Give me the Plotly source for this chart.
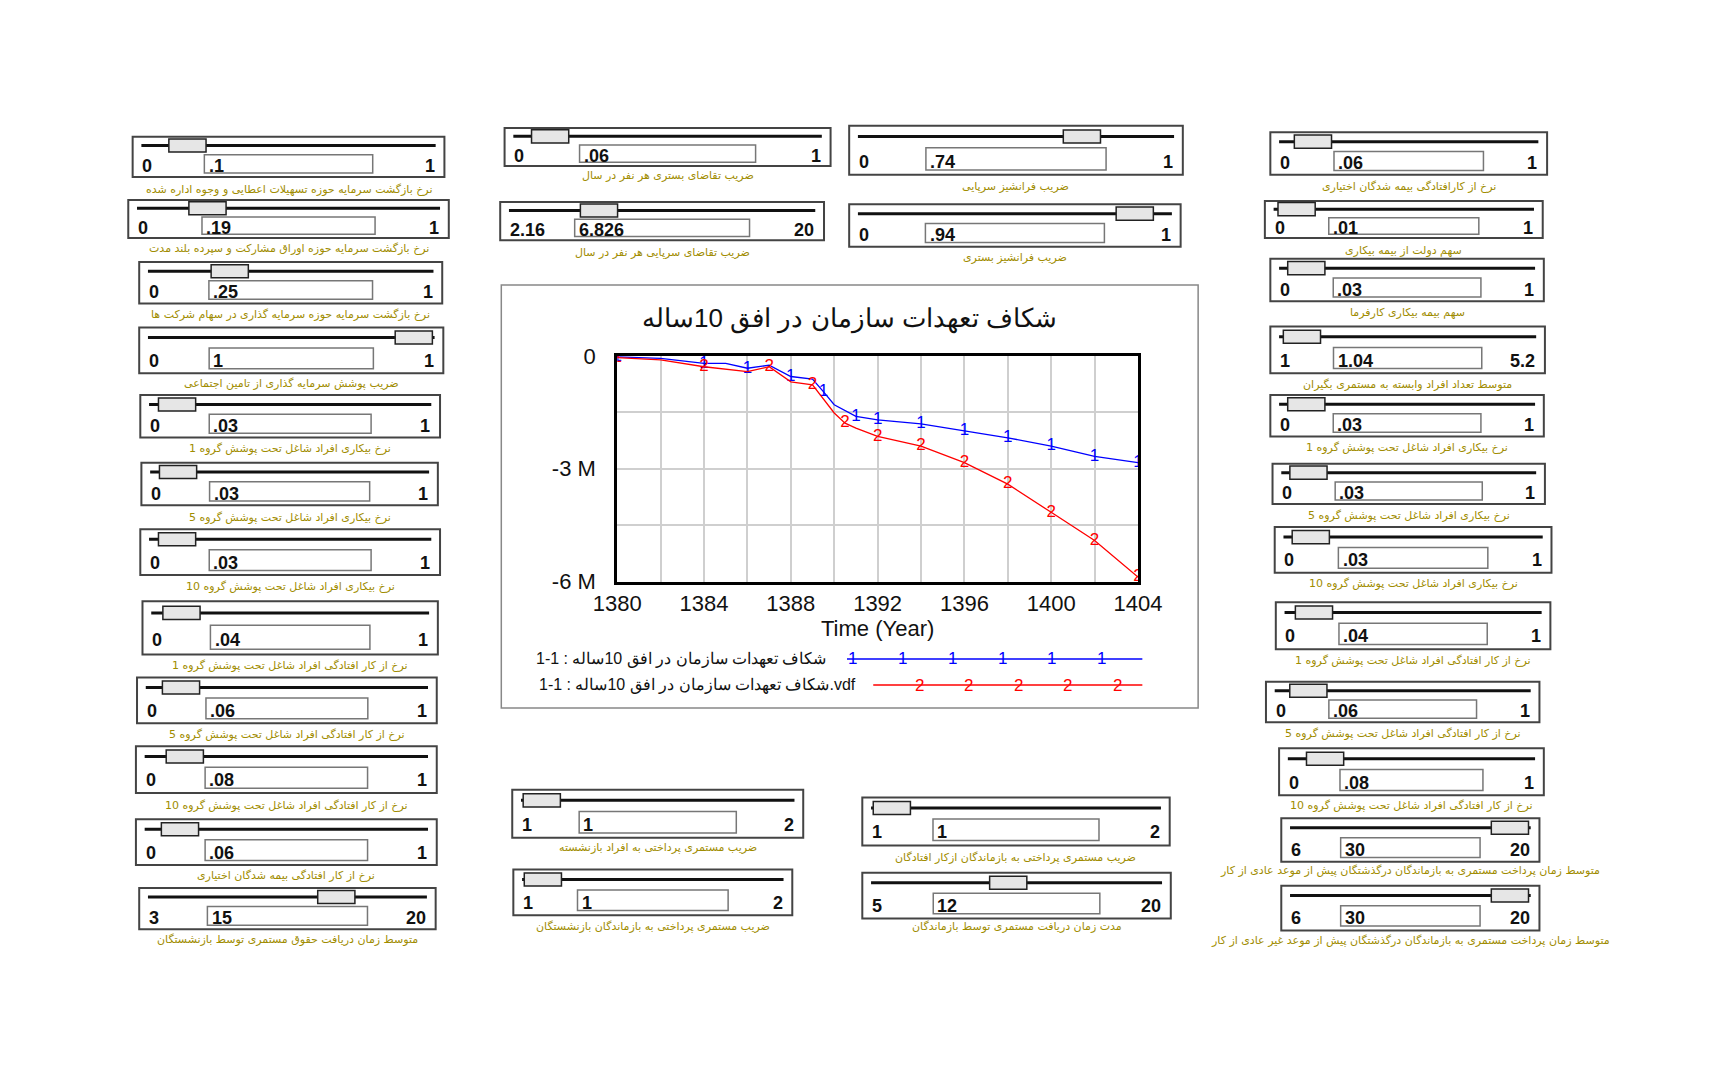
import numpy as np
import plotly.graph_objects as go

# ---- data ----
years = [1380, 1382, 1384, 1385, 1386, 1387, 1388, 1389, 1389.5, 1390, 1391, 1392, 1394, 1396, 1398, 1400, 1402, 1404]
gap_run = [-0.03, -0.07, -0.2, -0.2, -0.33, -0.25, -0.55, -0.62, -0.95, -1.3, -1.61, -1.7, -1.81, -1.99, -2.18, -2.4, -2.67, -2.84]
years_vdf = [1380, 1382, 1384, 1386, 1387, 1388, 1389, 1390, 1390.5, 1391, 1392, 1394, 1396, 1398, 1400, 1402, 1404]
gap_vdf = [-0.05, -0.11, -0.29, -0.42, -0.29, -0.69, -0.77, -1.52, -1.79, -1.92, -2.14, -2.4, -2.84, -3.41, -4.16, -4.91, -5.88]

chart_title = "شکاف تعهدات سازمان در افق 10ساله"
legend_names = ["1-1 : شکاف تعهدات سازمان در افق 10ساله", "1-1 : شکاف تعهدات سازمان در افق 10ساله.vdf"]

g1 = "نرخ بیکاری افراد شاغل تحت پوشش گروه "
g2 = "نرخ از کار افتادگی افراد شاغل تحت پوشش گروه "
slider_labels = [
    "نرخ بازگشت سرمایه حوزه تسهیلات اعطایی و وجوه اداره شده",
    "نرخ بازگشت سرمایه حوزه اوراق مشارکت و سپرده بلند مدت",
    "نرخ بازگشت سرمایه حوزه سرمایه گذاری در سهام شرکت ها",
    "ضریب پوشش سرمایه گذاری از تامین اجتماعی",
    g1 + "1", g1 + "5", g1 + "10",
    g2 + "1", g2 + "5", g2 + "10",
    "نرخ از کار افتادگی بیمه شدگان اختیاری",
    "متوسط زمان دریافت حقوق مستمری توسط بازنشستگان",
    "ضریب تقاضای بستری هر نفر در سال",
    "ضریب تقاضای سرپایی هر نفر در سال",
    "ضریب فرانشیز سرپایی",
    "ضریب فرانشیز بستری",
    "ضریب مستمری پرداختی به افراد بازنشسته",
    "ضریب مستمری پرداختی به بازماندگان بازنشستگان",
    "ضریب مستمری پرداختی به بازماندگان ازکار افتادگان",
    "مدت زمان دریافت مستمری توسط بازماندگان",
    "نرخ از کارافتادگی بیمه شدگان اختیاری",
    "سهم دولت از بیمه بیکاری",
    "سهم بیمه بیکاری کارفرما",
    "متوسط تعداد افراد وابسته به مستمری بگیران",
    g1 + "1", g1 + "5", g1 + "10",
    g2 + "1", g2 + "5", g2 + "10",
    "متوسط زمان پرداخت مستمری به بازماندگان درگذشتگان پیش از موعد عادی از کار",
    "متوسط زمان پرداخت مستمری به بازماندگان درگذشتگان پیش از موعد غیر عادی از کار",
]
slider_values = [".1", ".19", ".25", "1", ".03", ".03", ".03", ".04", ".06", ".08", ".06", "15",
                 ".06", "6.826", ".74", ".94", "1", "1", "1", "12",
                 ".06", ".01", ".03", "1.04", ".03", ".03", ".03", ".04", ".06", ".08", "30", "30"]
slider_mins = ["0"] * 11 + ["3", "0", "2.16", "0", "0", "1", "1", "1", "5"] + ["0", "0", "0", "1"] + ["0"] * 6 + ["6", "6"]
slider_maxs = ["1"] * 11 + ["20", "1", "20", "1", "1", "2", "2", "2", "20"] + ["1", "1", "1", "5.2"] + ["1"] * 6 + ["20", "20"]

# ---- layout positions (reference px) ----
boxes = [
    (120, 405, 125, 162, 173), (116, 409, 183, 218, 228), (126, 403, 240, 278, 288), (126, 404, 300, 342, 351),
    (127, 401, 362, 401, 411), (128, 399, 424, 463, 474), (127, 401, 485, 527, 538), (129, 399, 551, 600, 610),
    (124, 398, 621, 663, 673), (123, 398, 684, 727, 738), (123, 398, 751, 793, 803), (126, 397, 814, 852, 861),
    (460, 758, 117, 152, 161), (456, 752, 185, 220, 231), (775, 1080, 115, 160, 171), (775, 1078, 187, 226, 236),
    (467, 733, 724, 768, 777), (468, 723, 797, 839, 849), (787, 1068, 731, 775, 786), (787, 1069, 800, 842, 849),
    (1160, 1413, 121, 160, 171), (1155, 1409, 184, 218, 229), (1160, 1410, 237, 276, 286), (1160, 1411, 299, 342, 352),
    (1160, 1410, 362, 400, 410), (1162, 1411, 425, 462, 472), (1164, 1417, 483, 525, 535), (1165, 1416, 552, 595, 605),
    (1156, 1406, 625, 662, 672), (1168, 1410, 686, 729, 738), (1170, 1406, 750, 790, 798), (1170, 1406, 812, 853, 862),
]

W, H = 1717, 1077
S = 1717 / 1560


def fx(x):
    return ((x - 28) / 0.978) * S / W


def fy(y):
    return 1 - ((y - 18) / 0.986) * S / H


CAP = "#a08c00"
FONT = "Liberation Sans"
shapes = []
annots = []

for lab, val, mn, mx, (x0, x1, y0, y1, cy) in zip(slider_labels, slider_values, slider_mins, slider_maxs, boxes):
    w, h = x1 - x0, y1 - y0
    shapes.append(dict(type="rect", xref="paper", yref="paper", x0=fx(x0), x1=fx(x1), y0=fy(y1), y1=fy(y0),
                       line=dict(color="#444", width=2)))
    ty = y0 + h * 0.22
    shapes.append(dict(type="line", xref="paper", yref="paper", x0=fx(x0 + 8), x1=fx(x1 - 8), y0=fy(ty), y1=fy(ty),
                       line=dict(color="#111", width=3)))
    frac = min(max((float(val) - float(mn)) / (float(mx) - float(mn)), 0), 1)
    tx = x0 + 10 + frac * (w - 20 - 34)
    shapes.append(dict(type="rect", xref="paper", yref="paper", x0=fx(tx), x1=fx(tx + 34), y0=fy(ty + 6), y1=fy(ty - 6),
                       fillcolor="#e6e6e6", line=dict(color="#222", width=1.5)))
    bx0, bx1 = x0 + 0.23 * w, x0 + 0.77 * w
    by0, by1 = y0 + 0.45 * h, y1 - 0.1 * h
    shapes.append(dict(type="rect", xref="paper", yref="paper", x0=fx(bx0), x1=fx(bx1), y0=fy(by1), y1=fy(by0),
                       line=dict(color="#777", width=1.5)))
    ly = y1 - 0.27 * h
    annots.append(dict(x=fx(x0 + 7), y=fy(ly), text="<b>%s</b>" % mn, xanchor="left", yanchor="middle",
                       font=dict(size=18, color="#111", family=FONT)))
    annots.append(dict(x=fx(x1 - 7), y=fy(ly), text="<b>%s</b>" % mx, xanchor="right", yanchor="middle",
                       font=dict(size=18, color="#111", family=FONT)))
    annots.append(dict(x=fx(bx0 + 2), y=fy(ly), text="<b>%s</b>" % val, xanchor="left", yanchor="middle",
                       font=dict(size=18, color="#111", family=FONT)))
    annots.append(dict(x=fx((x0 + x1) / 2), y=fy(cy), text=lab, xanchor="center", yanchor="middle",
                       font=dict(size=11, color=CAP, family="DejaVu Sans")))

# chart frame
shapes.append(dict(type="rect", xref="paper", yref="paper", x0=fx(457), x1=fx(1094), y0=fy(649), y1=fy(261),
                   line=dict(color="#888", width=1.5)))
annots.append(dict(x=fx(775), y=fy(292), text=chart_title, xanchor="center", yanchor="middle",
                   font=dict(size=26, color="#111", family=FONT)))
annots.append(dict(x=fx(801), y=fy(576), text="Time (Year)", xanchor="center", yanchor="middle",
                   font=dict(size=22, color="#111", family=FONT)))

# legend
for name, color, mark, lx0, ly, ltx, nmarks in [(legend_names[0], "blue", "1", 773, 604, 757, 6),
                                                  (legend_names[1], "red", "2", 797, 628, 783, 5)]:
    shapes.append(dict(type="line", xref="paper", yref="paper", x0=fx(lx0), x1=fx(1043), y0=fy(ly), y1=fy(ly),
                       line=dict(color=color, width=1.5)))
    annots.append(dict(x=fx(ltx), y=fy(ly), text=name, xanchor="right", yanchor="middle",
                       font=dict(size=16, color="#111", family=FONT)))
    start = lx0 + (5 if mark == "1" else 42)
    for mxp in np.linspace(start, 1020 if mark == "2" else 1006, nmarks):
        annots.append(dict(x=fx(mxp), y=fy(ly), text=mark, xanchor="center", yanchor="middle", showarrow=False,
                           font=dict(size=17, color=color, family=FONT)))

for a in annots:
    a.update(xref="paper", yref="paper", showarrow=False)

fig = go.Figure()
fig.add_trace(go.Scatter(x=years, y=[v * 1e6 for v in gap_run], mode="lines+text",
                         text=["1" if (i % 2 == 0 or yr >= 1391) else "" for i, yr in enumerate(years)],
                         textposition="middle center", textfont=dict(size=17, color="blue", family=FONT),
                         line=dict(color="blue", width=1.3), showlegend=False))
fig.add_trace(go.Scatter(x=years_vdf, y=[v * 1e6 for v in gap_vdf], mode="lines+text",
                         text=["2" if (i % 2 == 0 or yr >= 1392) else "" for i, yr in enumerate(years_vdf)],
                         textposition="middle center", textfont=dict(size=17, color="red", family=FONT),
                         line=dict(color="red", width=1.3), showlegend=False))

xt = list(range(1380, 1405, 2))
fig.update_layout(
    width=W, height=H, margin=dict(l=0, r=0, t=0, b=0),
    paper_bgcolor="white", plot_bgcolor="white",
    shapes=shapes, annotations=annots,
    xaxis=dict(domain=[fx(563), fx(1039)], range=[1380, 1404], tickvals=xt,
               ticktext=[str(v) if (v - 1380) % 4 == 0 else "" for v in xt],
               showgrid=True, gridcolor="#cfcfcf", gridwidth=1.5, zeroline=False,
               showline=True, linecolor="black", linewidth=3, mirror=True, ticks="",
               tickfont=dict(size=22, color="#111", family=FONT)),
    yaxis=dict(domain=[fy(533), fy(326)], range=[-6e6, 0],
               tickvals=[0, -1.5e6, -3e6, -4.5e6, -6e6], ticktext=["0", "", "-3 M", "", "-6 M"],
               showgrid=True, gridcolor="#cfcfcf", gridwidth=1.5, zeroline=False,
               showline=True, linecolor="black", linewidth=3, mirror=True, ticks="outside",
               ticklen=14, tickcolor="white",
               tickfont=dict(size=22, color="#111", family=FONT)),
)

fig.write_html("out.html")
